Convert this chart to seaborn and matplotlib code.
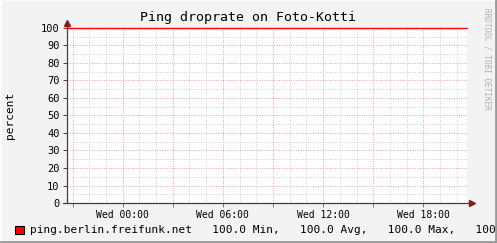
import matplotlib
matplotlib.use("Agg")
import matplotlib.pyplot as plt
import seaborn as sns
import pandas as pd
from matplotlib.ticker import FixedLocator, FuncFormatter
from matplotlib.patches import Rectangle
from matplotlib.lines import Line2D

# ---- data (hours since Tue 00:00) ----
hours = [20.64, 22, 24, 26, 28, 30, 32, 34, 36, 38, 40, 42, 44.64]
droprate = [100, 100, 100, 100, 100, 100, 100, 100, 100, 100, 100, 100, 100]
x_start, x_end = 20.64, 44.64
label_hours = [24, 30, 36, 42]
label_texts = ["Wed 00:00", "Wed 06:00", "Wed 12:00", "Wed 18:00"]
y_ticks = [0, 10, 20, 30, 40, 50, 60, 70, 80, 90, 100]
series_name = "ping.berlin.freifunk.net"
legend_stats = ["100.0 Min,", "100.0 Avg,", "100.0 Max,", "100."]
title = "Ping droprate on Foto-Kotti"
ylabel = "percent"
watermark = "RRDTOOL / TOBI OETIKER"

df = pd.DataFrame({"hour": hours, "droprate": droprate})

sns.set_theme(style="white")
plt.rcParams["font.family"] = ["DejaVu Sans Mono"]

W, H = 497, 243
fig = plt.figure(figsize=(W / 100, H / 100), dpi=100, facecolor="#f3f3f3")

# figure border
fig.add_artist(Line2D([0, 1], [1 - 0.5 / H, 1 - 0.5 / H], transform=fig.transFigure, color="#fcfcfc", lw=1.5))
fig.add_artist(Line2D([0.5 / W, 0.5 / W], [0, 1], transform=fig.transFigure, color="#fcfcfc", lw=1.5))
fig.add_artist(Line2D([0, 1], [1 / H, 1 / H], transform=fig.transFigure, color="#9a9a9a", lw=2))
fig.add_artist(Line2D([1 - 1 / W, 1 - 1 / W], [0, 1], transform=fig.transFigure, color="#9a9a9a", lw=2))

left, right, top, bottom = 66.5, 467.5, 28, 203
ax = fig.add_axes([left / W, 1 - bottom / H, (right - left) / W, (bottom - top) / H])
ax.set_facecolor("white")

sns.lineplot(data=df, x="hour", y="droprate", ax=ax, color="#ff0000", lw=1.0, clip_on=False, zorder=5)

ax.set_xlim(x_start, x_end)
ax.set_ylim(0, 100)

# grid
ax.xaxis.set_major_locator(FixedLocator([h for h in range(21, 45, 3)]))
ax.xaxis.set_minor_locator(FixedLocator([h for h in range(21, 45)]))
ax.yaxis.set_major_locator(FixedLocator(y_ticks))
ax.yaxis.set_minor_locator(FixedLocator(list(range(5, 100, 10))))
ax.grid(which="minor", color="#cfcfcf", linestyle=(0, (1, 1.5)), lw=0.7)
ax.grid(which="major", color="#e8a2a2", linestyle=(0, (1, 1.5)), lw=0.7)

lab = dict(zip(label_hours, label_texts))
ax.xaxis.set_major_formatter(FuncFormatter(lambda v, p: lab.get(int(round(v)), "")))
ax.tick_params(axis="x", which="major", length=3, width=0.7, color="#b06060", labelsize=7, pad=2, labelcolor="black", direction="out", bottom=True)
ax.tick_params(axis="y", which="major", length=3, width=0.7, color="#404040", labelsize=7.5, pad=2, labelcolor="black", direction="out", left=True)
ax.tick_params(which="minor", length=0)

for s in ax.spines.values():
    s.set_visible(False)

# axes lines with arrows
ax.plot([0, 0], [0, 1.03], transform=ax.transAxes, color="#404040", lw=0.9, clip_on=False, zorder=6)
ax.plot([-0.009, 1.012], [0, 0], transform=ax.transAxes, color="#404040", lw=0.9, clip_on=False, zorder=6)
ax.plot([0], [1.03], transform=ax.transAxes, marker="^", ms=4.5, color="#7f1f1f", clip_on=False, zorder=7)
ax.plot([1.012], [0], transform=ax.transAxes, marker=">", ms=4.5, color="#7f1f1f", clip_on=False, zorder=7)

ax.set_xlabel("")
ax.set_ylabel("")

fig.text(0.5, 1 - 18 / H, title, ha="center", va="center", fontsize=9.5, color="black")
fig.text(10 / W, 1 - 115 / H, ylabel, ha="center", va="center", rotation=90, fontsize=8, color="black")
fig.text(487 / W, 1 - 59 / H, watermark, ha="center", va="center", rotation=270, fontsize=5.6, color="#b0b0b0")

# legend
fig.add_artist(Rectangle((15 / W, 1 - 233.5 / H), 9 / W, 8 / H, transform=fig.transFigure,
                         facecolor="#ff0000", edgecolor="black", lw=0.8))
legend_text = series_name + "   " + "   ".join(legend_stats)
fig.text(30 / W, 1 - 229.5 / H, legend_text, ha="left", va="center", fontsize=8, color="black")

fig.savefig("out.png", dpi=100, facecolor=fig.get_facecolor())
